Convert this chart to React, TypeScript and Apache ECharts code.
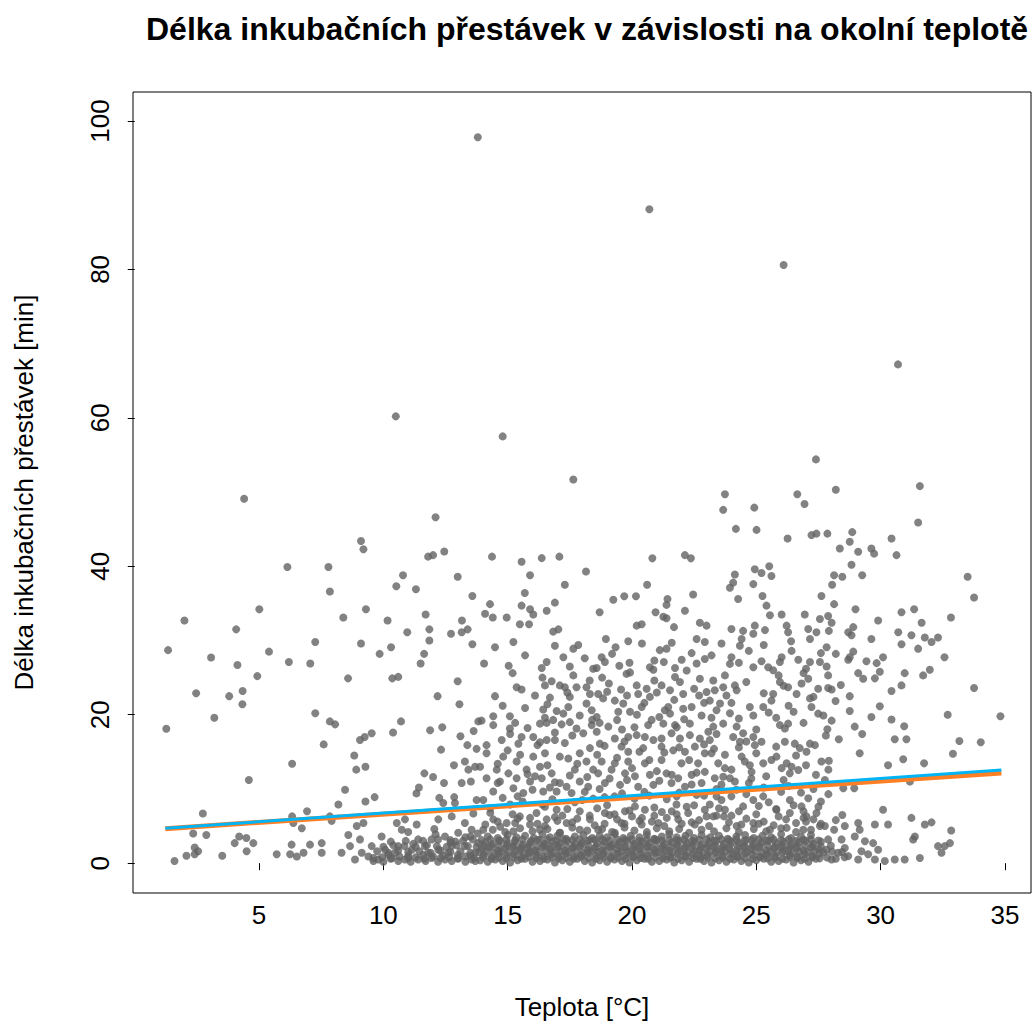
import { useEffect, useRef } from "react";
import * as echarts from "echarts";

const TITLE = "Délka inkubačních přestávek v závislosti na okolní teplotě";
const X_NAME = "Teplota [°C]";
const Y_NAME = "Délka inkubačních přestávek [min]";
const xTicks = [5, 10, 15, 20, 25, 30, 35];
const yTicks = [0, 20, 40, 60, 80, 100];

// [teplota, délka]
const outlierPoints = [
  [13.8, 97.8], [20.7, 88.1], [26.1, 80.6], [30.7, 67.2], [10.5, 60.2], [14.8, 57.5], [27.4, 54.4],
];

const coolPoints = [
  [4.4, 49.1], [2.0, 32.7], [4.08, 31.5], [1.34, 28.7], [3.07, 27.7], [4.13, 26.7], [2.47, 22.9], [3.8, 22.5],
  [4.34, 23.2], [4.33, 21.4], [3.2, 19.6], [1.27, 18.1], [4.59, 11.2], [2.74, 6.7], [2.35, 4.0], [2.88, 3.8],
  [4.02, 2.7], [4.2, 3.6], [2.41, 2.1], [2.55, 1.6], [2.08, 1.0], [2.41, 1.2], [1.6, 0.3], [3.52, 1.0],
  [4.5, 1.6], [4.49, 3.4],
  [9.1, 43.4], [9.2, 42.3], [6.14, 39.9], [7.79, 39.9], [7.85, 36.6], [5.01, 34.2], [9.3, 34.2], [8.39, 33.1],
  [7.26, 29.8], [9.1, 29.6], [5.4, 28.5], [6.2, 27.1], [7.06, 26.9], [4.93, 25.2], [8.58, 24.9], [7.26, 20.2],
  [7.85, 19.1], [8.06, 18.7], [9.06, 16.6], [9.25, 17.0], [7.6, 16.0], [8.83, 14.5], [8.91, 12.6], [9.28, 13.0],
  [6.33, 13.4], [8.46, 9.9], [8.19, 7.9], [9.28, 8.3], [6.93, 7.0], [6.33, 6.3], [7.85, 6.3], [6.38, 5.4],
  [7.92, 5.7], [6.72, 4.7], [6.31, 2.5], [7.05, 2.5], [6.52, 0.9], [6.79, 1.4], [6.25, 1.2], [7.52, 2.7],
  [7.52, 1.4], [5.71, 1.2], [4.77, 2.7], [8.32, 1.4], [8.59, 3.8], [8.93, 5.0], [9.2, 5.4], [9.06, 3.2],
  [8.86, 0.5], [8.66, 2.3], [9.13, 1.4],
];

const midPointsA = [
  [12.1, 46.6], [11.8, 41.3], [12.0, 41.5], [12.45, 42.0], [10.79, 38.8], [10.52, 37.3], [11.31, 36.9], [12.99, 38.6],
  [13.58, 36.0], [10.17, 32.7], [11.7, 33.5], [10.96, 31.1], [11.85, 31.5], [11.85, 30.0], [13.16, 32.7], [12.72, 30.9],
  [13.15, 31.1], [13.39, 31.5], [13.58, 29.5], [10.31, 29.1], [9.85, 28.2], [11.64, 28.2], [11.5, 26.9], [10.36, 24.9],
  [10.6, 25.1], [12.99, 24.5], [12.18, 22.5], [13.06, 21.4], [10.71, 19.1], [10.39, 17.6], [9.53, 17.5], [11.88, 17.9],
  [12.37, 18.3], [13.1, 17.1], [13.63, 17.8], [13.82, 19.1], [12.32, 15.3], [13.38, 15.9], [13.75, 15.4], [13.28, 13.7],
  [13.69, 13.0], [12.84, 13.2], [11.65, 12.1], [12.0, 11.6], [13.42, 12.6], [13.52, 11.0], [13.15, 10.8], [12.44, 10.8],
  [11.43, 10.2], [11.33, 9.4], [9.65, 8.9], [12.25, 8.8], [12.85, 8.9], [12.41, 8.1], [12.88, 8.1], [13.75, 8.5],
  [13.62, 6.7],
  [10.54, 5.4], [10.87, 5.9], [11.34, 5.2], [12.21, 5.9], [12.75, 6.3], [13.28, 5.4], [9.93, 3.6], [10.74, 4.5],
  [11.4, 3.2], [11.94, 3.2], [12.48, 3.6], [13.01, 4.1], [13.55, 4.5], [9.53, 2.3], [10.07, 1.8], [10.6, 2.3],
  [11.14, 1.8], [11.67, 2.3], [12.21, 1.8], [12.75, 2.3], [13.28, 2.3], [13.82, 2.7], [9.4, 0.9], [9.8, 0.5],
  [10.34, 0.7], [10.87, 0.5], [11.4, 0.5], [11.94, 0.7], [12.48, 0.5], [13.01, 0.7], [13.55, 0.5], [10.47, 1.4],
  [12.61, 1.4], [11.8, 1.4], [13.69, 1.4], [12.05, 4.6], [12.9, 2.9], [11.2, 2.6], [13.3, 3.5],
];

const midPointsB = [
  [17.64, 51.7], [14.37, 41.3], [15.56, 40.6], [16.37, 41.1], [17.08, 41.3], [18.15, 39.3], [15.9, 38.8], [17.3, 37.5],
  [15.69, 36.4], [14.29, 34.9], [15.56, 34.7], [16.9, 35.1], [14.09, 33.6], [14.4, 33.1], [14.96, 33.1], [15.9, 34.2],
  [16.03, 33.5], [16.57, 34.0], [15.49, 32.2], [15.86, 32.2], [16.83, 31.2], [17.04, 31.5], [15.23, 29.8], [14.49, 29.1],
  [17.64, 28.9], [17.84, 29.4], [17.24, 27.75], [14.05, 26.9], [15.04, 26.6], [16.37, 26.3], [16.57, 27.1], [17.64, 25.3],
  [17.77, 23.7], [18.44, 26.2], [15.36, 23.7], [15.56, 23.4], [16.5, 23.95], [16.77, 24.5], [17.1, 23.95], [17.3, 23.7],
  [18.17, 23.7], [18.31, 22.8], [14.49, 22.5], [16.7, 22.3], [17.5, 22.4], [17.44, 21.05], [16.43, 20.7], [16.97, 20.5],
  [17.24, 20.15], [18.17, 21.5], [18.38, 20.6], [13.95, 19.2], [14.42, 19.8], [15.09, 19.8], [14.42, 18.6], [15.09, 18.15],
  [16.3, 18.8], [16.57, 18.9], [16.83, 19.3], [17.17, 18.7], [17.5, 19.0], [17.77, 18.15], [18.04, 17.5], [18.38, 18.6],
  [14.76, 16.6], [15.56, 17.0], [15.43, 16.1], [16.03, 17.0], [16.3, 16.3], [16.57, 16.6], [16.9, 16.6], [14.15, 15.9],
  [14.15, 14.8], [14.82, 14.35], [15.36, 13.7], [16.03, 14.35], [16.5, 14.8], [17.1, 14.35], [17.44, 14.1], [17.9, 14.8],
  [18.31, 15.5], [18.17, 13.7], [13.89, 13.0], [14.56, 12.6], [15.03, 12.1], [15.76, 12.6], [16.3, 13.0], [16.77, 12.1],
  [17.7, 12.6], [18.44, 12.6], [14.15, 11.45], [14.69, 11.0], [15.36, 11.45], [15.9, 11.0], [16.37, 11.45], [17.1, 10.8],
  [17.37, 10.3], [17.9, 11.0], [18.24, 10.3], [14.42, 9.65], [15.23, 10.1], [15.63, 9.45], [16.43, 9.65], [16.97, 9.65],
  [17.57, 9.45], [14.02, 8.5], [18.44, 8.7],
  [16.16, 6.75], [16.97, 7.2], [17.9, 7.0], [15.49, 6.3], [14.42, 5.9], [14.96, 5.4], [15.9, 5.2], [16.57, 5.9],
  [17.37, 5.4], [18.31, 5.9], [14.02, 4.5], [15.23, 4.3], [16.3, 4.5], [17.1, 4.1], [17.9, 4.5],
];

const midPointsC = [
  [20.82, 41.07], [22.13, 41.5], [22.37, 41.07], [20.61, 37.5], [19.25, 35.5], [19.69, 35.97], [20.16, 35.97], [21.43, 35.6],
  [21.39, 34.8], [22.46, 36.2], [18.7, 33.8], [20.95, 33.8], [21.26, 33.2], [21.39, 33.0], [22.13, 34.0], [20.19, 32.0],
  [20.39, 32.2], [21.69, 31.8], [22.73, 32.4], [23.0, 32.0], [18.95, 30.2], [19.85, 29.9], [19.34, 29.1], [21.12, 28.7],
  [21.39, 28.9], [22.93, 29.8], [18.78, 27.75], [18.91, 27.1], [19.49, 26.6], [19.92, 25.7], [18.58, 26.3], [20.72, 26.4],
  [20.86, 26.05], [21.28, 27.1], [21.73, 26.3], [22.4, 28.3], [22.6, 26.9], [22.93, 27.5], [22.73, 24.85], [19.78, 25.5],
  [19.07, 24.2], [19.56, 23.4], [20.19, 23.95], [20.25, 22.8], [20.59, 23.5], [20.72, 22.4], [21.19, 23.95], [21.53, 23.3],
  [21.73, 25.07], [21.93, 24.4], [22.06, 22.8], [22.2, 25.96], [23.0, 23.06], [18.64, 22.8], [18.84, 22.2], [19.31, 21.9],
  [19.65, 21.5], [19.45, 20.4], [19.92, 20.4], [20.39, 21.05], [21.32, 20.6], [21.53, 20.15], [21.46, 21.05], [22.06, 20.8],
  [22.4, 21.05], [22.8, 19.9], [18.58, 19.7], [19.05, 18.4], [20.79, 19.3], [20.65, 18.6], [21.26, 18.8], [21.73, 18.6],
  [22.33, 18.8], [18.58, 17.7], [19.31, 16.8], [19.85, 17.0], [20.19, 17.25], [20.52, 17.0], [20.86, 16.6], [21.19, 16.8],
  [21.59, 17.5], [21.93, 16.8], [22.33, 17.25], [22.73, 16.8], [23.07, 17.7], [18.71, 16.1], [19.58, 15.7], [19.85, 15.0],
  [20.45, 15.5], [21.19, 15.7], [21.66, 15.2], [22.13, 15.0], [22.53, 15.7], [22.93, 14.8], [18.78, 13.7], [19.31, 13.45],
  [19.85, 13.7], [20.52, 13.45], [21.19, 13.9], [21.99, 13.45], [22.66, 13.45], [18.64, 12.1], [19.18, 12.6], [19.72, 12.1],
  [20.12, 11.7], [20.72, 11.9], [21.39, 12.1], [21.86, 11.45], [22.4, 11.9], [22.93, 12.3], [18.91, 10.8], [19.52, 10.55],
  [20.25, 10.3], [20.86, 10.55], [21.59, 10.8], [22.13, 10.3], [22.8, 10.8],
  [18.91, 6.75], [19.72, 7.0], [20.12, 7.65], [20.52, 7.2], [21.79, 7.9], [22.26, 6.75], [22.93, 7.2], [19.58, 5.4],
  [20.39, 5.2], [21.06, 5.4], [21.86, 5.9], [22.53, 5.2], [18.64, 4.5], [19.31, 4.1],
];

const midPointsD = [
  [23.74, 49.7], [23.67, 47.6], [24.92, 47.9], [26.65, 49.7], [26.94, 48.4], [24.18, 45.04], [25.01, 44.9], [26.26, 43.75],
  [27.22, 44.2], [27.42, 44.4], [25.52, 40.0], [24.94, 39.6], [25.21, 39.1], [25.61, 38.7], [24.14, 38.9], [24.07, 37.8],
  [23.94, 37.1], [24.88, 37.6], [24.27, 35.6], [25.25, 36.0], [27.62, 36.0], [25.41, 34.7], [25.55, 33.4], [26.02, 33.5],
  [26.95, 33.5], [27.56, 32.9], [26.22, 32.0], [26.28, 31.1], [25.35, 31.4], [24.94, 32.0], [24.88, 30.9], [24.47, 31.3],
  [24.0, 31.55], [24.41, 30.2], [24.34, 29.3], [27.09, 31.55], [27.16, 30.2], [27.42, 31.1], [26.42, 28.6],
  [26.69, 27.4], [26.02, 27.75], [25.95, 27.1], [24.88, 26.4], [25.21, 27.2], [25.48, 26.4], [25.68, 26.0], [24.0, 27.75],
  [23.94, 26.85], [23.74, 25.3], [24.14, 23.95], [24.21, 23.3], [23.27, 24.6], [23.33, 23.3], [23.67, 23.7], [25.95, 24.4],
  [26.28, 23.7], [26.62, 22.8], [26.82, 24.2], [27.09, 24.85], [27.16, 27.1], [27.56, 27.1], [27.49, 23.5], [27.16, 22.2],
  [27.22, 21.05], [27.49, 20.15], [25.68, 22.8], [25.61, 21.9], [25.28, 21.05], [24.74, 21.05], [24.88, 19.9], [23.13, 21.9],
  [23.54, 21.5], [23.4, 20.6], [23.94, 20.2], [23.67, 18.8], [23.27, 18.4], [24.21, 18.4], [24.07, 17.0], [24.34, 16.35],
  [24.47, 17.5], [24.88, 17.0], [24.94, 15.9], [25.21, 16.35], [25.95, 18.6], [26.15, 18.15], [26.28, 18.8], [26.15, 16.35],
  [26.55, 16.1], [26.75, 15.5], [27.02, 15.0], [27.16, 16.1], [27.36, 15.9], [27.62, 13.7], [23.13, 16.6], [23.2, 14.8],
  [23.47, 13.45], [23.74, 14.6], [23.74, 12.8], [23.67, 11.65], [23.33, 11.45], [24.41, 14.35], [24.54, 13.7], [24.74, 13.2],
  [24.81, 12.3], [25.28, 13.45], [25.61, 13.9], [25.81, 14.35], [26.02, 12.8], [26.22, 13.45], [26.42, 13.0], [26.69, 12.55],
  [26.35, 12.1], [24.14, 11.0], [23.94, 11.45],
  [23.13, 7.9], [23.27, 6.3], [23.4, 9.0], [23.74, 7.2], [24.0, 9.0], [24.47, 7.65], [24.88, 8.5], [25.28, 9.0],
  [25.81, 7.2], [26.35, 8.5], [26.82, 7.65], [27.09, 8.75], [26.35, 6.75], [27.02, 6.3], [27.42, 6.75], [24.21, 5.0],
  [24.88, 5.4], [25.55, 4.5], [26.22, 4.75], [26.89, 4.5], [27.56, 5.0],
];

const warmPoints = [
  [28.2, 50.3], [31.58, 50.8], [31.51, 45.9], [27.86, 44.4], [28.86, 44.6], [28.76, 43.3], [28.36, 42.4], [29.1, 41.96],
  [29.63, 42.4], [29.74, 41.7], [30.44, 43.75], [30.64, 41.5], [28.83, 40.2], [28.13, 38.8], [28.46, 38.6], [29.26, 38.8],
  [28.05, 37.5], [28.13, 34.9], [28.99, 34.2], [27.89, 33.3], [28.03, 32.4], [27.92, 31.3], [29.9, 32.7], [30.84, 33.8],
  [31.35, 34.2], [31.65, 32.4], [28.7, 31.1], [28.9, 31.8], [28.83, 30.7], [29.63, 30.2], [30.71, 31.1], [30.84, 29.5],
  [31.24, 30.7], [31.78, 30.4], [32.05, 29.8], [32.31, 30.4], [31.51, 28.9], [27.83, 29.1], [28.2, 28.2], [28.9, 28.5],
  [28.76, 27.75], [28.7, 27.4], [30.1, 27.75], [29.43, 27.2], [29.84, 26.95], [27.83, 26.5], [27.89, 25.3], [29.1, 25.6],
  [29.3, 24.85], [29.77, 24.9], [29.97, 25.8], [30.97, 25.6], [30.84, 23.95], [30.44, 23.2], [31.71, 25.3], [31.98, 26.05],
  [27.89, 23.6], [28.03, 23.4], [28.76, 22.5], [28.19, 21.85], [29.97, 21.15], [28.76, 20.5], [29.63, 19.7], [30.44, 19.35],
  [28.03, 19.2], [27.86, 18.05], [28.96, 18.4], [29.26, 17.4], [30.95, 18.45], [28.32, 16.7], [30.57, 16.7], [31.04, 16.7],
  [29.16, 14.8], [30.91, 14.0], [27.92, 13.8], [30.3, 13.2], [31.75, 13.45], [27.76, 11.2], [28.5, 10.1], [28.94, 10.1],
  [31.18, 11.0],
  [30.1, 7.2], [28.46, 6.5], [27.76, 5.0], [28.13, 4.5], [28.56, 5.0], [29.1, 5.4], [29.16, 4.5], [29.77, 5.2],
  [30.3, 5.2], [31.24, 6.1], [31.78, 5.2], [32.05, 5.5], [31.38, 3.6], [31.31, 3.2], [27.89, 3.2], [28.43, 3.2],
  [28.96, 3.6], [29.37, 2.95], [29.7, 2.7], [29.9, 1.8], [32.31, 2.3], [28.29, 1.4], [28.7, 0.95], [29.1, 0.5],
  [29.5, 1.2], [29.77, 0.5], [30.17, 0.3], [30.57, 0.5], [30.97, 0.5], [31.58, 0.7], [28.03, 0.5], [27.83, 1.8],
  [28.56, 2.05], [29.23, 1.6],
  [33.5, 38.6], [33.76, 35.8], [32.83, 33.1], [32.57, 27.75], [33.76, 23.6], [32.7, 20.0], [34.82, 19.8], [33.17, 16.45],
  [34.03, 16.3], [32.91, 14.75], [32.84, 4.4], [32.79, 2.7], [32.58, 2.3], [32.45, 1.4],
];

const midExtra = [
  [14.3, 6.8], [14.8, 8.8], [15.2, 6.6], [15.6, 8.3], [16.0, 9.9], [16.4, 7.9], [16.8, 8.6], [17.2, 6.4],
  [17.7, 8.2], [18.1, 9.6], [18.6, 7.4], [18.9, 8.9], [19.3, 6.6], [19.6, 9.4], [20.1, 8.7], [20.4, 6.1],
  [20.7, 9.1], [21.2, 6.9], [21.4, 8.6], [21.9, 9.5], [22.2, 7.6], [22.6, 9.2], [23.0, 6.3], [23.6, 8.5],
  [24.0, 6.4], [24.6, 9.3], [25.0, 6.6], [25.5, 8.2], [26.0, 9.6], [26.5, 7.8], [27.0, 5.6], [27.6, 8.3],
  [14.6, 13.4], [15.0, 15.2], [15.5, 14.6], [15.8, 12.0], [16.2, 15.9], [16.6, 13.2], [16.9, 10.9], [17.3, 16.2],
  [17.8, 13.4], [18.2, 11.6], [18.6, 14.6], [18.9, 15.8], [19.1, 11.4], [19.4, 14.2], [19.7, 16.4], [20.0, 12.8],
  [20.3, 15.0], [20.7, 13.9], [21.0, 12.4], [21.3, 14.9], [21.6, 11.9], [21.9, 15.6], [22.3, 13.9], [22.6, 12.2],
  [22.9, 16.0], [23.3, 15.4], [23.6, 10.6], [24.0, 12.6], [24.3, 15.6], [24.7, 10.8], [25.0, 14.8], [25.4, 11.7],
  [25.8, 15.7], [26.1, 11.2], [26.6, 14.5], [27.0, 13.2], [27.4, 11.9], [27.9, 12.6],
  [14.8, 21.2], [15.3, 18.9], [15.7, 20.9], [16.1, 22.6], [16.5, 19.6], [16.9, 17.6], [17.4, 23.0], [17.9, 19.9],
  [18.3, 24.6], [18.7, 18.9], [19.0, 23.1], [19.4, 19.3], [19.8, 22.6], [20.1, 18.3], [20.5, 21.6], [20.9, 24.6],
  [21.1, 19.7], [21.7, 22.0], [22.1, 19.4], [22.5, 23.5], [22.9, 21.6], [23.4, 17.4], [23.8, 22.6], [24.3, 19.5],
  [24.6, 24.4], [25.0, 18.0], [25.3, 22.9], [25.8, 19.6], [26.1, 23.9], [26.5, 20.4], [26.9, 18.9], [27.3, 22.4],
  [27.8, 17.2],
  [15.2, 25.6], [15.7, 28.0], [16.4, 25.0], [16.9, 29.3], [17.5, 26.5], [18.1, 27.6], [18.8, 25.0], [19.2, 28.2],
  [19.9, 27.0], [20.4, 29.6], [20.9, 27.3], [21.6, 29.7], [22.0, 27.4], [22.6, 30.2], [23.2, 28.0], [23.6, 29.6],
  [24.3, 27.0], [24.7, 28.6], [25.3, 29.4], [25.9, 25.3], [26.4, 29.9], [27.0, 26.2], [27.6, 28.3],
];

const midExtra2 = [
  [14.1, 5.2], [14.7, 4.9], [15.3, 5.4], [15.9, 6.1], [16.5, 5.0], [17.0, 5.7], [17.8, 6.0], [18.5, 5.1],
  [19.1, 6.5], [19.7, 5.3], [20.3, 5.7], [20.9, 6.4], [21.3, 5.0], [21.8, 6.6], [22.4, 5.5], [23.1, 5.0],
  [23.7, 6.3], [24.4, 5.2], [25.1, 5.3], [25.7, 5.1], [26.2, 5.9], [26.9, 6.1], [27.6, 5.3], [28.2, 5.8],
  [14.6, 10.8], [15.4, 9.0], [16.1, 11.7], [16.7, 10.2], [17.5, 11.8], [18.0, 8.5], [18.7, 10.0], [19.3, 9.0],
  [19.8, 11.2], [20.5, 9.6], [21.1, 11.1], [21.8, 9.0], [22.4, 10.6], [22.9, 9.1], [23.4, 10.0], [24.2, 9.9],
  [24.8, 11.4], [25.3, 10.2], [26.3, 10.4], [26.8, 9.5], [27.3, 10.0], [27.9, 9.3],
  [15.1, 17.4], [15.8, 18.2], [16.6, 21.4], [17.6, 17.2], [18.4, 19.3], [19.6, 18.0], [20.2, 20.0], [21.0, 23.0],
  [21.8, 18.3], [22.7, 22.6], [23.2, 19.6], [24.0, 21.6], [24.6, 16.4], [25.5, 20.3], [26.3, 21.2], [26.9, 25.6],
  [27.7, 19.9], [28.4, 24.0],
];

const bandLeft = [
  [9.6, 0.3], [10.0, 0.2], [10.6, 0.3], [11.1, 0.2], [11.7, 0.3], [12.2, 0.2], [12.75, 0.3], [13.3, 0.2], [13.7, 0.3],
  [10.2, 1.1], [11.0, 1.0], [11.6, 1.1], [12.4, 1.0], [13.0, 1.1], [13.5, 1.0], [10.3, 2.9], [10.9, 3.0], [12.7, 2.8],
  [13.5, 3.6], [12.1, 3.9], [11.0, 4.2], [13.8, 4.0],
];
const bandRow0 = [
  [13.9, 0.4], [14.2, 0.2], [14.5, 0.5], [14.8, 0.3], [15.1, 0.1], [15.4, 0.4], [15.7, 0.6], [16.0, 0.2], [16.3, 0.3],
  [16.6, 0.5], [16.9, 0.1], [17.2, 0.4], [17.5, 0.2], [17.8, 0.6], [18.1, 0.3], [18.4, 0.1], [18.7, 0.4], [19.0, 0.2],
  [19.3, 0.5], [19.6, 0.3], [19.9, 0.1], [20.2, 0.4], [20.5, 0.6], [20.8, 0.2], [21.1, 0.3], [21.4, 0.5], [21.7, 0.1],
  [22.0, 0.4], [22.3, 0.2], [22.6, 0.6], [22.9, 0.3], [23.2, 0.1], [23.5, 0.4], [23.8, 0.2], [24.1, 0.5], [24.4, 0.3],
  [24.7, 0.1], [25.0, 0.4], [25.3, 0.6], [25.6, 0.2], [25.9, 0.3], [26.2, 0.5], [26.5, 0.1], [26.8, 0.4], [27.1, 0.2],
  [27.4, 0.6],
];
const bandRowA = [
  [9.6, 0.7], [9.95, 0.8], [10.3, 0.6], [10.65, 0.9], [11.0, 0.7], [11.3, 0.8], [11.65, 0.6], [12.0, 0.9], [12.3, 0.7],
  [12.65, 0.8], [13.0, 0.6], [13.3, 0.9], [13.65, 0.7], [14.0, 0.8], [14.35, 0.6], [14.65, 0.75], [14.95, 0.65],
  [15.25, 0.8], [15.55, 0.6], [15.85, 0.85], [16.15, 0.7], [16.45, 0.6], [16.75, 0.8], [17.05, 0.65], [17.35, 0.75],
  [17.65, 0.6], [17.95, 0.85], [18.25, 0.7], [18.55, 0.6], [18.85, 0.8], [19.15, 0.65], [19.45, 0.75], [19.75, 0.6],
  [20.05, 0.85], [20.35, 0.7], [20.65, 0.6], [20.95, 0.8], [21.25, 0.65], [21.55, 0.75], [21.85, 0.6], [22.15, 0.85],
  [22.45, 0.7], [22.75, 0.6], [23.05, 0.8], [23.35, 0.65], [23.65, 0.75], [23.95, 0.6], [24.25, 0.85], [24.55, 0.7],
  [24.85, 0.6], [25.15, 0.8], [25.45, 0.65], [25.75, 0.75], [26.05, 0.6], [26.35, 0.85], [26.65, 0.7], [26.95, 0.6],
  [27.25, 0.8], [27.55, 0.65], [27.85, 0.75], [28.2, 0.6], [28.55, 0.8],
];
const bandRow1 = [
  [14.05, 1.1], [14.35, 0.9], [14.65, 1.3], [14.95, 1.0], [15.25, 1.2], [15.55, 0.9], [15.85, 1.4], [16.15, 1.1],
  [16.45, 0.9], [16.75, 1.2], [17.05, 1.0], [17.35, 1.3], [17.65, 0.9], [17.95, 1.1], [18.25, 1.4], [18.55, 1.0],
  [18.85, 1.2], [19.15, 0.9], [19.45, 1.3], [19.75, 1.1], [20.05, 0.9], [20.35, 1.2], [20.65, 1.0], [20.95, 1.4],
  [21.25, 1.1], [21.55, 0.9], [21.85, 1.3], [22.15, 1.0], [22.45, 1.2], [22.75, 0.9], [23.05, 1.1], [23.35, 1.4],
  [23.65, 1.0], [23.95, 1.2], [24.25, 0.9], [24.55, 1.3], [24.85, 1.1], [25.15, 0.9], [25.45, 1.2], [25.75, 1.0],
  [26.05, 1.4], [26.35, 1.1], [26.65, 0.9], [26.95, 1.2], [27.25, 1.0], [27.55, 1.3],
];
const bandRowB = [
  [9.75, 1.6], [10.2, 1.4], [10.6, 1.7], [11.0, 1.5], [11.45, 1.6], [11.9, 1.4], [12.3, 1.7], [12.7, 1.5], [13.1, 1.6],
  [13.5, 1.4], [13.85, 1.5], [14.15, 1.6], [14.45, 1.4], [14.75, 1.55], [15.05, 1.5], [15.35, 1.65], [15.65, 1.4],
  [15.95, 1.55], [16.25, 1.5], [16.55, 1.6], [16.85, 1.45], [17.15, 1.55], [17.45, 1.5], [17.75, 1.6], [18.05, 1.4],
  [18.35, 1.55], [18.65, 1.5], [18.95, 1.65], [19.25, 1.45], [19.55, 1.55], [19.85, 1.5], [20.15, 1.6], [20.45, 1.4],
  [20.75, 1.55], [21.05, 1.5], [21.35, 1.65], [21.65, 1.45], [21.95, 1.55], [22.25, 1.5], [22.55, 1.6], [22.85, 1.4],
  [23.15, 1.55], [23.45, 1.5], [23.75, 1.65], [24.05, 1.45], [24.35, 1.55], [24.65, 1.5], [24.95, 1.6], [25.25, 1.4],
  [25.55, 1.55], [25.85, 1.5], [26.15, 1.65], [26.45, 1.45], [26.75, 1.55], [27.05, 1.5], [27.35, 1.6], [27.7, 1.45],
  [28.05, 1.55], [28.45, 1.5],
];
const bandRow2 = [
  [13.95, 1.9], [14.25, 2.1], [14.6, 1.7], [14.9, 2.0], [15.2, 2.2], [15.5, 1.8], [15.8, 2.0], [16.1, 1.7], [16.4, 2.2],
  [16.7, 1.9], [17.0, 2.1], [17.3, 1.7], [17.6, 2.0], [17.9, 2.2], [18.2, 1.8], [18.5, 2.0], [18.8, 1.7], [19.1, 2.2],
  [19.4, 1.9], [19.7, 2.1], [20.0, 1.7], [20.3, 2.0], [20.6, 2.2], [20.9, 1.8], [21.2, 2.0], [21.5, 1.7], [21.8, 2.2],
  [22.1, 1.9], [22.4, 2.1], [22.7, 1.7], [23.0, 2.0], [23.3, 2.2], [23.6, 1.8], [23.9, 2.0], [24.2, 1.7], [24.5, 2.2],
  [24.8, 1.9], [25.1, 2.1], [25.4, 1.7], [25.7, 2.0], [26.0, 2.2], [26.3, 1.8], [26.6, 2.0], [26.9, 1.7], [27.2, 2.1],
  [27.5, 1.9],
];
const bandRowC = [
  [10.0, 2.2], [10.4, 2.4], [10.85, 2.3], [11.3, 2.2], [11.75, 2.4], [12.15, 2.3], [12.55, 2.2], [12.95, 2.4], [13.4, 2.3],
  [13.75, 2.2], [14.05, 2.35], [14.35, 2.3], [14.65, 2.25], [14.95, 2.4], [15.25, 2.3], [15.55, 2.2], [15.85, 2.35],
  [16.15, 2.3], [16.45, 2.4], [16.75, 2.25], [17.05, 2.3], [17.35, 2.35], [17.65, 2.2], [17.95, 2.4], [18.25, 2.3],
  [18.55, 2.25], [18.85, 2.35], [19.15, 2.3], [19.45, 2.4], [19.75, 2.2], [20.05, 2.35], [20.35, 2.3], [20.65, 2.25],
  [20.95, 2.4], [21.25, 2.3], [21.55, 2.2], [21.85, 2.35], [22.15, 2.3], [22.45, 2.4], [22.75, 2.25], [23.05, 2.3],
  [23.35, 2.35], [23.65, 2.2], [23.95, 2.4], [24.25, 2.3], [24.55, 2.25], [24.85, 2.35], [25.15, 2.3], [25.45, 2.4],
  [25.75, 2.2], [26.05, 2.35], [26.35, 2.3], [26.65, 2.25], [26.95, 2.4], [27.25, 2.3], [27.6, 2.2], [28.0, 2.35],
];
const bandRow3 = [
  [14.1, 2.8], [14.4, 2.6], [14.7, 3.0], [15.0, 2.7], [15.3, 2.9], [15.6, 2.5], [15.9, 2.8], [16.2, 3.1], [16.5, 2.6],
  [16.8, 2.9], [17.1, 2.7], [17.4, 3.0], [17.7, 2.6], [18.0, 2.8], [18.3, 3.1], [18.6, 2.7], [18.9, 2.9], [19.2, 2.5],
  [19.5, 2.8], [19.8, 3.0], [20.1, 2.6], [20.4, 2.9], [20.7, 2.7], [21.0, 3.1], [21.3, 2.6], [21.6, 2.8], [21.9, 3.0],
  [22.2, 2.7], [22.5, 2.9], [22.8, 2.5], [23.1, 2.8], [23.4, 3.0], [23.7, 2.6], [24.0, 2.9], [24.3, 2.7], [24.6, 3.1],
  [24.9, 2.6], [25.2, 2.8], [25.5, 3.0], [25.8, 2.7], [26.1, 2.9], [26.4, 2.5], [26.7, 2.8], [27.0, 3.0], [27.3, 2.6],
  [27.6, 2.9],
];
const bandRowD = [
  [11.6, 3.0], [12.2, 3.2], [12.7, 3.1], [13.2, 3.0], [13.6, 3.2], [13.95, 3.1], [14.3, 3.2], [14.65, 3.05], [14.95, 3.2],
  [15.3, 3.1], [15.6, 3.2], [15.95, 3.0], [16.3, 3.15], [16.6, 3.2], [16.95, 3.05], [17.25, 3.2], [17.6, 3.1], [17.9, 3.2],
  [18.2, 3.0], [18.5, 3.15], [18.8, 3.2], [19.1, 3.05], [19.4, 3.2], [19.7, 3.1], [20.0, 3.2], [20.3, 3.0], [20.6, 3.15],
  [20.9, 3.2], [21.2, 3.05], [21.5, 3.2], [21.8, 3.1], [22.1, 3.2], [22.4, 3.0], [22.7, 3.15], [23.0, 3.2], [23.3, 3.05],
  [23.6, 3.2], [23.9, 3.1], [24.2, 3.2], [24.5, 3.0], [24.8, 3.15], [25.1, 3.2], [25.4, 3.05], [25.7, 3.2], [26.0, 3.1],
  [26.3, 3.2], [26.6, 3.0], [26.9, 3.15], [27.2, 3.2], [27.5, 3.05],
];
const bandRow4 = [
  [14.2, 3.6], [14.6, 3.4], [15.0, 3.8], [15.35, 3.5], [15.7, 3.7], [16.05, 3.4], [16.4, 3.9], [16.7, 3.5], [17.0, 3.7],
  [17.35, 3.3], [17.7, 3.6], [18.05, 3.8], [18.4, 3.4], [18.7, 3.7], [19.0, 3.5], [19.3, 3.9], [19.65, 3.4], [19.95, 3.7],
  [20.3, 3.5], [20.6, 3.8], [20.9, 3.3], [21.2, 3.6], [21.5, 3.9], [21.8, 3.5], [22.15, 3.7], [22.5, 3.4], [22.8, 3.8],
  [23.15, 3.5], [23.5, 3.7], [23.85, 3.3], [24.2, 3.6], [24.55, 3.8], [24.9, 3.4], [25.25, 3.7], [25.6, 3.5], [26.0, 3.9],
  [26.4, 3.4], [26.8, 3.6], [27.2, 3.8],
];
const bandRow5 = [
  [14.4, 4.5], [14.9, 4.2], [15.5, 4.7], [16.0, 4.3], [16.6, 4.6], [17.1, 4.1], [17.6, 4.8], [18.2, 4.4], [18.8, 4.6],
  [19.2, 4.2], [19.7, 4.8], [20.1, 4.4], [20.6, 4.2], [21.0, 4.7], [21.5, 4.3], [21.9, 4.6], [22.3, 4.1], [22.8, 4.5],
  [23.3, 4.3], [23.8, 4.7], [24.3, 4.2], [24.9, 4.6], [25.4, 4.3], [26.0, 4.7], [26.6, 4.2], [27.2, 4.5],
];
const bandRow6 = [
  [14.6, 5.6], [15.4, 6.0], [16.2, 5.3], [16.9, 6.2], [17.6, 5.5], [18.3, 6.4], [18.9, 5.3], [19.4, 5.9], [20.0, 6.3],
  [20.8, 5.6], [21.4, 6.1], [22.0, 5.3], [22.7, 5.8], [23.4, 6.4], [23.9, 5.5], [24.6, 6.0], [25.3, 5.6], [25.9, 6.3],
  [26.6, 5.4], [27.3, 5.9],
];
const bandRow7 = [
  [14.3, 7.4], [15.1, 7.9], [16.5, 7.6], [17.4, 7.3], [19.0, 7.8], [19.9, 7.1], [20.9, 7.5], [21.6, 7.0], [22.5, 7.8],
  [23.5, 7.4], [24.3, 7.0], [25.1, 7.7], [25.8, 7.3], [26.9, 7.0], [27.5, 7.6],
];

// regression lines (endpoints)
const fitTemp = [1.23, 34.86];
const fitOrange = [4.65, 12.16];
const fitBlue = [4.7, 12.56];

const FONT = "'Liberation Sans', Arial, sans-serif";

export default function App() {
  const ref = useRef<HTMLDivElement>(null);
  useEffect(() => {
    if (!ref.current) return;
    const chart = echarts.init(ref.current, null, { renderer: "svg" });
    const points = [
      ...outlierPoints, ...coolPoints, ...midPointsA, ...midPointsB, ...midPointsC, ...midPointsD, ...warmPoints,
      ...midExtra, ...midExtra2, ...bandLeft, ...bandRow0, ...bandRowA, ...bandRow1, ...bandRowB, ...bandRow2,
      ...bandRowC, ...bandRow3, ...bandRowD, ...bandRow4, ...bandRow5, ...bandRow6, ...bandRow7,
    ];
    chart.setOption({
      animation: false,
      backgroundColor: "#ffffff",
      title: {
        text: TITLE,
        left: 141,
        top: 8,
        textStyle: { fontFamily: FONT, fontWeight: "bold", fontSize: 32, color: "#000" },
      },
      grid: {
        left: 133,
        top: 92,
        width: 898,
        height: 805,
        show: true,
        borderColor: "#000",
        borderWidth: 1,
        backgroundColor: "transparent",
      },
      xAxis: {
        type: "value",
        min: -0.07,
        max: 36.05,
        axisLine: { show: false },
        splitLine: { show: false },
        axisTick: { show: true, customValues: xTicks, length: 7, lineStyle: { color: "#000", width: 1 } },
        axisLabel: { customValues: xTicks, margin: 9, fontSize: 26, color: "#000", fontFamily: FONT },
        name: X_NAME,
        nameLocation: "middle",
        nameGap: 101,
        nameTextStyle: { fontSize: 26, color: "#000", fontFamily: FONT },
      },
      yAxis: {
        type: "value",
        min: -4.02,
        max: 103.9,
        axisLine: { show: false },
        splitLine: { show: false },
        axisTick: { show: true, customValues: yTicks, length: 7, lineStyle: { color: "#000", width: 1 } },
        axisLabel: { customValues: yTicks, rotate: 90, margin: 20, fontSize: 26, color: "#000", fontFamily: FONT },
        name: Y_NAME,
        nameLocation: "middle",
        nameGap: 96,
        nameRotate: 90,
        nameTextStyle: { fontSize: 26, color: "#000", fontFamily: FONT },
      },
      series: [
        {
          type: "scatter",
          data: points,
          symbol: "circle",
          symbolSize: 8,
          itemStyle: { color: "#636363" },
          silent: true,
        },
        {
          type: "line",
          data: fitTemp.map((t, i) => [t, fitOrange[i]]),
          symbol: "none",
          lineStyle: { color: "#FF7F24", width: 5 },
          silent: true,
        },
        {
          type: "line",
          data: fitTemp.map((t, i) => [t, fitBlue[i]]),
          symbol: "none",
          lineStyle: { color: "#00B4F5", width: 3 },
          silent: true,
        },
      ],
    });
    return () => chart.dispose();
  }, []);
  return (
    <div
      ref={ref}
      style={{ position: "fixed", left: 0, top: 0, width: 1033, height: 1025, background: "#fff" }}
    />
  );
}
